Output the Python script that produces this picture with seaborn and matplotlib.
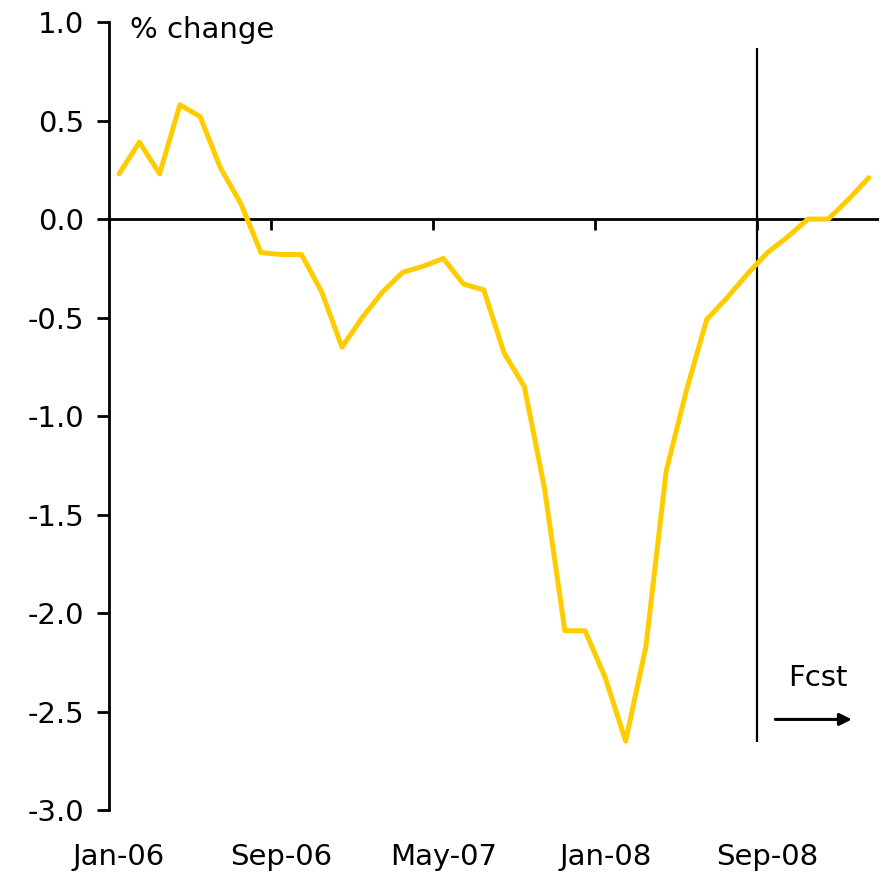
import numpy as np
import pandas as pd
import matplotlib
matplotlib.use("Agg")
import matplotlib.pyplot as plt
import seaborn as sns

# ==== DATA ====
months = pd.date_range("2006-01-01", "2009-02-01", freq="MS")
pct_change = [0.23, 0.39, 0.23, 0.58, 0.52, 0.26, 0.08, -0.17, -0.18, -0.18,
              -0.37, -0.65, -0.50, -0.37, -0.27, -0.24, -0.20, -0.33, -0.36, -0.68,
              -0.85, -1.37, -2.09, -2.09, -2.33, -2.65, -2.17, -1.28, -0.87, -0.51,
              -0.40, -0.28, -0.17, -0.09, 0.00, 0.00, 0.10, 0.21]
tick_labels = ["Jan-06", "Sep-06", "May-07", "Jan-08", "Sep-08"]
fcst_start = "Sep-08"

df = pd.DataFrame({"idx": np.arange(len(months)), "val": pct_change,
                   "label": months.strftime("%b-%y")})

# ==== PLOT ====
sns.set_style("white")
plt.rcParams["font.family"] = ["DejaVu Sans"]
plt.rcParams["text.color"] = "black"
plt.rcParams["xtick.color"] = "black"
plt.rcParams["ytick.color"] = "black"
fs = 21

fig = plt.figure(figsize=(8.86, 8.76), dpi=100)
ax = fig.add_axes([0.123, 0.0753, 0.869, 0.8995])

# zero line under the data
ax.axhline(0, color="black", linewidth=2, zorder=1)
sns.lineplot(data=df, x="idx", y="val", color="#FFCC00", linewidth=3.6, ax=ax, zorder=3)

n = len(df)
ax.set_xlim(-0.5, n - 0.5)
ax.set_ylim(-3.0, 1.0)
ax.set_xlabel("")
ax.set_ylabel("")

# y axis
yt = np.arange(-3.0, 1.01, 0.5)
ax.set_yticks(yt)
ax.set_yticklabels([f"{v:.1f}" for v in yt])
ax.tick_params(axis="y", direction="out", length=9, width=2, labelsize=fs, pad=9, left=True)

# x labels at bottom, no tick marks
pos = [df.index[df["label"] == t][0] for t in tick_labels]
ax.set_xticks(pos)
ax.set_xticklabels(tick_labels)
ax.tick_params(axis="x", length=0, labelsize=fs, pad=24)

for s in ["top", "right", "bottom"]:
    ax.spines[s].set_visible(False)
ax.spines["left"].set_linewidth(2)
ax.spines["left"].set_color("black")

# tick marks between categories on the zero line
zero = ax.secondary_xaxis(3.0 / 4.0)
zero.set_xticks([p - 0.5 for p in pos])
zero.set_xticklabels([])
zero.xaxis.set_ticks_position("bottom")
zero.tick_params(axis="x", direction="out", length=8, width=2, colors="black")
for sp in zero.spines.values():
    sp.set_visible(False)

# forecast divider
fx = df.index[df["label"] == fcst_start][0] - 0.5
ax.vlines(fx, -2.655, 0.87, color="black", linewidth=1.6)
ax.annotate("", xy=(36.3, -2.54), xytext=(32.25, -2.54),
            arrowprops=dict(arrowstyle="-|>", color="black", lw=2.2, mutation_scale=18))
ax.text(34.5, -2.33, "Fcst", ha="center", va="center", fontsize=fs)
ax.text(0.55, 0.96, "% change", ha="left", va="center", fontsize=fs)

fig.savefig("out.png", dpi=100)
